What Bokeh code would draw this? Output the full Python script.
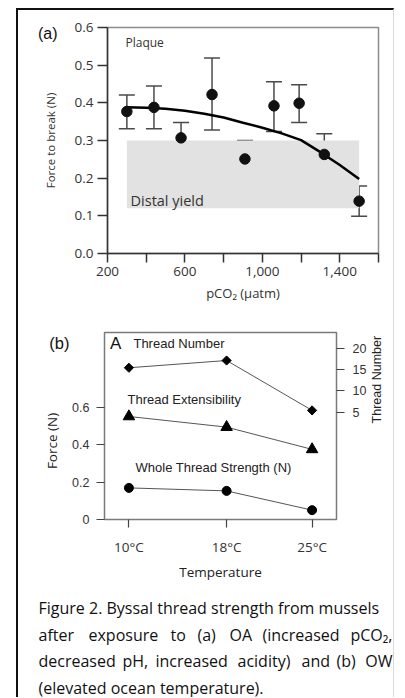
import math
from bokeh.plotting import figure
from bokeh.models import (Range1d, LinearAxis, FixedTicker, Label, Whisker,
                          ColumnDataSource, TeeHead, NumeralTickFormatter)
from bokeh.embed import file_html
from bokeh.resources import INLINE

# ---------------- data: panel (a) ----------------
pco2 = [300, 440, 580, 740, 910, 1060, 1190, 1320, 1500]
force = [0.377, 0.388, 0.307, 0.422, 0.251, 0.392, 0.399, 0.263, 0.139]
force_hi = [0.421, 0.445, 0.348, 0.519, 0.300, 0.456, 0.448, 0.318, 0.179]
force_lo = [0.331, 0.331, 0.264, 0.328, 0.201, 0.324, 0.348, 0.207, 0.099]
fit_x = [300, 400, 500, 600, 700, 800, 900, 1000, 1100, 1200, 1300, 1400, 1500]
fit_y = [0.388, 0.387, 0.384, 0.379, 0.371, 0.361, 0.347, 0.334, 0.319, 0.301, 0.269, 0.235, 0.198]
distal_x = [300, 1500]
distal_y = [0.12, 0.30]
x_ticks_a = [200, 600, 1000, 1400]
x_minor_a = [400, 800, 1200, 1600]
y_ticks_a = [0.0, 0.1, 0.2, 0.3, 0.4, 0.5, 0.6]

# ---------------- data: panel (b) ----------------
temps = [10, 18, 25]
temp_labels = ["10°C", "18°C", "25°C"]
thread_number = [15.4, 17.1, 5.4]
thread_ext = [0.551, 0.494, 0.375]
whole_strength = [0.169, 0.153, 0.050]
y_ticks_b = [0, 0.2, 0.4, 0.6]
tn_ticks = [5, 10, 15, 20]

caption_lines = [
    ["Figure 2. Byssal thread strength from mussels"],
    ["after", "exposure", "to", "(a)", "OA", "(increased", "pCO\u2082,"],
    ["decreased", "pH,", "increased", "acidity)", "and", "(b)", "OW"],
    ["(elevated ocean temperature)."],
]

FA = "Open Sans"
FB = "Liberation Sans"
W = 378
BOX_L = {"margin-left": "16px", "border-left": "2px solid #111111",
         "border-right": "1px solid #d8d8d8"}


def lab(fig, x, y, text, font, size, color="#222222", align="left", angle=0.0, style="normal"):
    fig.add_layout(Label(x=x, y=y, text=text, text_font=font, text_font_size=size,
                         text_color=color, text_align=align, text_baseline="middle",
                         angle=angle, text_font_style=style))


def tag_axis(fig, side, y_val, text, font, size, standoff, orient="horizontal",
             y_range_name="default", color="#111111"):
    ax = LinearAxis(y_range_name=y_range_name, ticker=FixedTicker(ticks=[y_val]))
    ax.major_label_overrides = {y_val: text}
    ax.axis_line_color = None
    ax.major_tick_line_color = None
    ax.minor_tick_line_color = None
    ax.major_tick_in = 0
    ax.major_tick_out = 0
    ax.major_label_standoff = standoff
    ax.major_label_text_font = font
    ax.major_label_text_font_size = size
    ax.major_label_text_color = color
    ax.major_label_orientation = orient
    fig.add_layout(ax, side)
    return ax


# ---------------- panel (a) ----------------
fa = figure(width=W, height=295, x_range=Range1d(200, 1600), y_range=Range1d(0, 0.6),
            min_border_left=89, min_border_right=18, min_border_top=17, min_border_bottom=52,
            toolbar_location=None, output_backend="svg",
            styles=dict(BOX_L, **{"margin-top": "8px", "border-top": "2px solid #111111"}))
fa.grid.visible = False
fa.outline_line_color = "#8c8c8c"
fa.outline_line_width = 1.5

fa.quad(left=[distal_x[0]], right=[distal_x[1]], bottom=[distal_y[0]], top=[distal_y[1]],
        fill_color="#e2e2e2", line_color=None)

src_a = ColumnDataSource(dict(x=pco2, y=force, hi=force_hi, lo=force_lo))
wh = Whisker(base="x", upper="hi", lower="lo", source=src_a, dimension="height",
             line_color="#4a4a4a", line_width=1.5, level="underlay",
             upper_head=TeeHead(size=16, line_color="#4a4a4a", line_width=1.5),
             lower_head=TeeHead(size=16, line_color="#4a4a4a", line_width=1.5))
fa.add_layout(wh)
fa.line(fit_x, fit_y, line_color="black", line_width=2.5)
fa.scatter("x", "y", source=src_a, marker="circle", size=10.5, fill_color="#111111", line_color="#111111")

xa = fa.xaxis[0]
xa.ticker = FixedTicker(ticks=x_ticks_a, minor_ticks=x_minor_a)
xa.formatter = NumeralTickFormatter(format="0,0")
ya = fa.yaxis[0]
ya.ticker = FixedTicker(ticks=y_ticks_a)
ya.formatter = NumeralTickFormatter(format="0.0")
for ax in (xa, ya):
    ax.axis_line_color = "#333333"
    ax.axis_line_width = 1.5
    ax.major_tick_line_color = "#333333"
    ax.major_tick_line_width = 1.5
    ax.minor_tick_line_color = "#333333"
    ax.minor_tick_line_width = 1.5
    ax.major_tick_in = 0
    ax.minor_tick_in = 0
    ax.major_label_text_font = FA
    ax.major_label_text_font_size = "13.5px"
    ax.major_label_text_color = "#333333"
    ax.axis_label_text_font = FA
    ax.axis_label_text_font_style = "normal"
    ax.axis_label_text_color = "#333333"
xa.major_tick_out = 9
xa.minor_tick_out = 9
xa.major_label_standoff = 4
xa.axis_label = "pCO\u2082 (\u00b5atm)"
xa.axis_label_text_font_size = "13px"
xa.axis_label_standoff = 5
ya.major_tick_out = 10
ya.major_label_standoff = 4
ya.axis_label = "Force to break (N)"
ya.axis_label_text_font_size = "11.5px"
ya.axis_label_standoff = 14
tag_axis(fa, "left", 0.584, "(a)", FB, "16px", -18)

lab(fa, 293, 0.560, "Plaque", FA, "12px", "#333333")
lab(fa, 319, 0.141, "Distal yield", FA, "14.5px", "#333333")

# ---------------- panel (b) ----------------
fb = figure(width=W, height=282, x_range=Range1d(8, 27), y_range=Range1d(0, 1.0),
            min_border_left=86, min_border_right=60, min_border_top=29, min_border_bottom=66,
            toolbar_location=None, output_backend="svg", styles=dict(BOX_L))
fb.grid.visible = False
fb.outline_line_color = "#7a7a7a"
fb.outline_line_width = 1.5
fb.extra_y_ranges = {"tn": Range1d(-20.2, 23.67)}
rax = LinearAxis(y_range_name="tn", ticker=FixedTicker(ticks=tn_ticks))
fb.add_layout(rax, "right")

xb = fb.xaxis[0]
xb.ticker = FixedTicker(ticks=temps)
xb.major_label_overrides = {t: s for t, s in zip(temps, temp_labels)}
yb = fb.yaxis[0]
yb.ticker = FixedTicker(ticks=y_ticks_b)
for ax in (xb, yb, rax):
    ax.axis_line_color = None
    ax.major_tick_line_color = "#444444"
    ax.major_tick_line_width = 1.2
    ax.minor_tick_line_color = None
    ax.major_tick_in = 0
    ax.major_tick_out = 8
    ax.major_label_text_color = "#333333"
    ax.major_label_standoff = 7
    ax.major_label_text_font = FB
    ax.major_label_text_font_size = "12.5px"
    ax.axis_label_text_font = FA
    ax.axis_label_text_font_style = "normal"
    ax.axis_label_text_color = "#222222"
    ax.axis_label_text_font_size = "13.5px"
xb.major_label_text_font = FA
xb.major_label_text_font_size = "13.5px"
xb.major_label_standoff = 10
xb.axis_label = "Temperature"
xb.axis_label_standoff = 4
rax.major_label_standoff = 8
tag_axis(fb, "left", 0.945, "(b)", FB, "16.5px", 0)
tag_axis(fb, "left", 0.42, "Force (N)", FA, "13.5px", -15, orient="vertical", color="#222222")
tag_axis(fb, "right", 2.34, "Thread Number", FB, "12.5px", 8, orient=math.pi / 2,
         y_range_name="tn", color="#222222")

fb.line(temps, thread_number, y_range_name="tn", line_color="#555555", line_width=1)
fb.scatter(temps, thread_number, y_range_name="tn", marker="square", angle=math.pi / 4, size=6.5,
           fill_color="black", line_color="black")
fb.line(temps, thread_ext, line_color="#555555", line_width=1)
fb.scatter(temps, thread_ext, marker="triangle", size=11.5, fill_color="black", line_color="black")
fb.line(temps, whole_strength, line_color="#555555", line_width=1)
fb.scatter(temps, whole_strength, marker="circle", size=9, fill_color="black", line_color="black")

lab(fb, 8.45, 0.941, "A", FB, "17px", "#111111")
lab(fb, 10.37, 0.941, "Thread Number", FB, "13px", "#222222")
lab(fb, 9.88, 0.642, "Thread Extensibility", FB, "13px", "#222222")
lab(fb, 10.54, 0.278, "Whole Thread Strength (N)", FB, "13px", "#222222")

# ---------------- caption ----------------
fc = figure(width=W, height=112, x_range=Range1d(0, W), y_range=Range1d(112, 0),
            min_border=0, x_axis_location=None, y_axis_location=None,
            toolbar_location=None, output_backend="svg", styles=dict(BOX_L))
fc.grid.visible = False
fc.outline_line_color = None
line_y = [22, 49, 75, 102]
word_x = [
    [20],
    [20, 70, 152, 179, 211, 244, 374],
    [20, 104, 137, 219, 283, 318, 374],
    [20],
]
for words, xs, yy in zip(caption_lines, word_x, line_y):
    n = len(words)
    for i, (w, xx) in enumerate(zip(words, xs)):
        align = "right" if (n > 1 and i == n - 1) else "left"
        lab(fc, xx, yy, w, FA, "16px", "#111111", align=align)

open("out.html", "w").write(file_html([fa, fb, fc], INLINE))
